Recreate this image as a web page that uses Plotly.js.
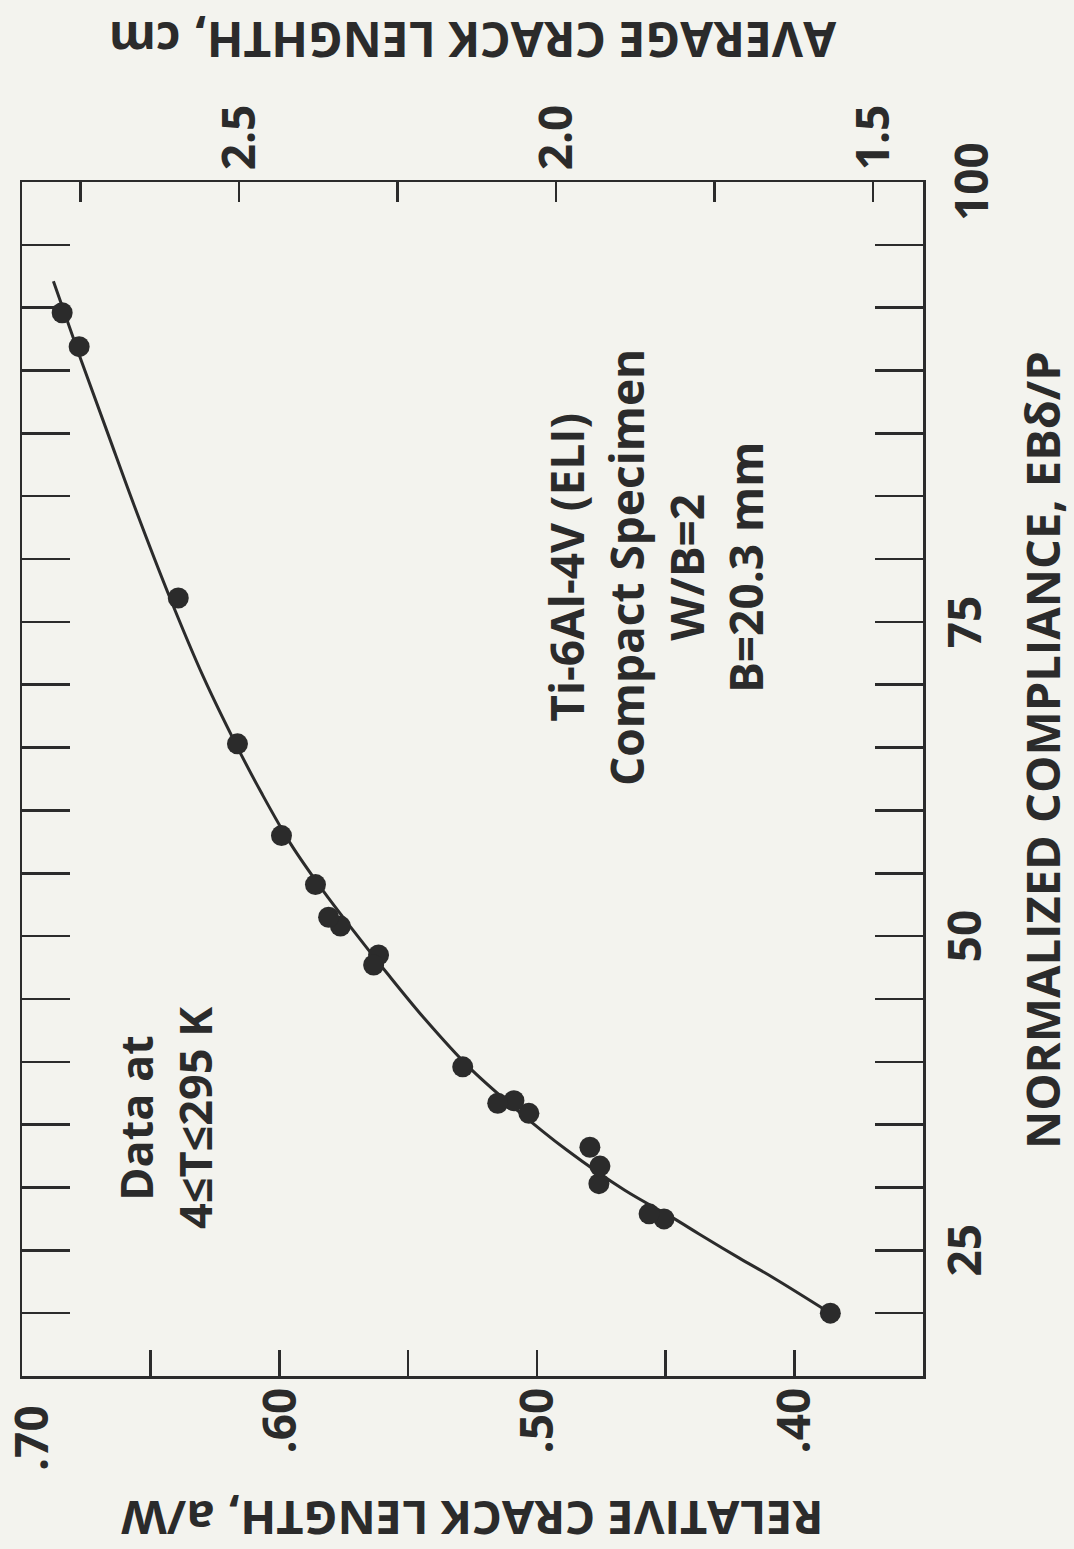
<!DOCTYPE html>
<html>
<head>
<meta charset="utf-8">
<script src="https://cdn.plot.ly/plotly-3.0.1.min.js"></script>
<style>
  html, body { margin: 0; padding: 0; width: 1074px; height: 1549px; overflow: hidden; background: #f3f3ee; }
  #chart { position: absolute; left: 0; top: 0; width: 1549px; height: 1074px;
           transform-origin: 0 0; transform: translateY(1549px) rotate(-90deg); }
</style>
</head>
<body>
<div id="chart"></div>
<script>
// Measured data points: normalized compliance EBδ/P vs relative crack length a/W
const pointCompliance = [20.0, 27.5, 27.9, 30.3, 31.7, 33.2, 35.9, 36.9, 36.7, 39.6,
                         48.5, 47.7, 50.8, 51.5, 54.1, 58.0, 65.3, 76.9, 96.9, 99.6];
const pointRatio      = [0.386, 0.4506, 0.4564, 0.4759, 0.4755, 0.4794, 0.5031, 0.5089, 0.5152, 0.5288,
                         0.5615, 0.5634, 0.5763, 0.5809, 0.5860, 0.5992, 0.6163, 0.6393, 0.6778, 0.6844];

// Fitted calibration curve
const curveCompliance = [20.0, 22.8, 24.4, 26.3, 27.5, 29.8, 33.0, 36.3, 39.6, 43.4, 47.0,
                         50.5, 53.6, 57.3, 61.4, 65.3, 70.6, 76.9, 84.3, 89.9, 95.8, 102.1];
const curveRatio      = [0.386, 0.408, 0.4215, 0.437, 0.4465, 0.466, 0.4885, 0.5085, 0.5265, 0.5435, 0.558,
                         0.5715, 0.583, 0.5955, 0.607, 0.617, 0.6295, 0.6425, 0.6565, 0.6665, 0.677, 0.6878];

// Axis ticks
const complianceMajor = [25, 50, 75, 100];
const complianceMajorText = ['25', '50', '75', ''];
const ratioTicks = [0.35, 0.40, 0.45, 0.50, 0.55, 0.60, 0.65, 0.70];
const ratioTickText = ['', '.40', '', '.50', '', '.60', '', ''];
const lengthTicks = [1.5, 1.75, 2.0, 2.25, 2.5, 2.75];
const lengthTickText = ['1.5', '', '2.0', '', '2.5', ''];

const specimenWidthCm = 4.06;   // W = 2B = 40.6 mm
const ratioRange = [0.35, 0.70];
const complianceRange = [15, 110];

const ink = '#2b2b2b';
const bg = '#f3f3ee';
const fontFamily = 'Open Sans, sans-serif';

const traces = [
  {
    x: curveCompliance, y: curveRatio, type: 'scatter', mode: 'lines',
    line: { color: ink, width: 3, shape: 'spline', smoothing: 1 },
    hoverinfo: 'skip', showlegend: false
  },
  {
    x: pointCompliance, y: pointRatio, type: 'scatter', mode: 'markers',
    marker: { color: ink, size: 21 }, showlegend: false
  },
  {
    // same curve expressed as average crack length (cm) so the right axis is drawn
    x: curveCompliance, y: curveRatio.map(r => r * specimenWidthCm), yaxis: 'y2',
    type: 'scatter', mode: 'lines', line: { width: 0, color: 'rgba(0,0,0,0)' },
    hoverinfo: 'skip', showlegend: false
  }
];

const layout = {
  width: 1549, height: 1074,
  margin: { l: 173, r: 182, t: 22, b: 151 },
  paper_bgcolor: bg, plot_bgcolor: bg,
  font: { family: fontFamily, color: ink, size: 46, weight: 'bold' },
  showlegend: false,
  xaxis: {
    range: complianceRange,
    tickmode: 'array', tickvals: complianceMajor, ticktext: complianceMajorText,
    ticks: 'inside', ticklen: 48, tickwidth: 2.5, tickcolor: ink,
    minor: { dtick: 5, tick0: 0, ticks: 'inside', ticklen: 27, tickwidth: 2.5, tickcolor: ink, showgrid: false },
    showline: true, linewidth: 2.5, linecolor: ink, mirror: 'allticks',
    showgrid: false, zeroline: false,
    tickfont: { size: 46, weight: 'bold' }
  },
  yaxis: {
    range: ratioRange,
    tickmode: 'array', tickvals: ratioTicks, ticktext: ratioTickText,
    ticks: 'inside', ticklen: 26, tickwidth: 2.5, tickcolor: ink,
    showline: true, linewidth: 2.5, linecolor: ink,
    showgrid: false, zeroline: false,
    tickfont: { size: 46, weight: 'bold' }
  },
  yaxis2: {
    overlaying: 'y', side: 'right',
    range: ratioRange.map(v => v * specimenWidthCm),
    tickmode: 'array', tickvals: lengthTicks, ticktext: lengthTickText,
    ticks: 'inside', ticklen: 20, tickwidth: 2.5, tickcolor: ink,
    showline: true, linewidth: 2.5, linecolor: ink,
    showgrid: false, zeroline: false,
    tickfont: { size: 46, weight: 'bold' },
    title: { text: 'AVERAGE CRACK LENGHTH, cm', font: { size: 48, weight: 'bold' }, standoff: 50 }
  },
  annotations: [
    // axis titles
    { xref: 'paper', yref: 'paper', x: 0.524, y: 0, yshift: -119, xanchor: 'center', yanchor: 'middle',
      text: 'NORMALIZED COMPLIANCE, EBδ/P', showarrow: false, font: { size: 47, weight: 'bold' } },
    { xref: 'paper', yref: 'paper', x: 0, y: 0.5, xshift: -143, xanchor: 'center', yanchor: 'middle',
      textangle: -90, text: 'RELATIVE CRACK LENGTH, a/W', showarrow: false, font: { size: 47, weight: 'bold' } },
    // end-of-axis tick labels
    { xref: 'paper', yref: 'paper', x: 1, y: 0, xanchor: 'center', yanchor: 'top', yshift: -14,
      text: '100', showarrow: false, font: { size: 46, weight: 'bold' } },
    { xref: 'paper', yref: 'paper', x: 0, y: 1, xanchor: 'right', yanchor: 'middle', xshift: -27, yshift: -8,
      text: '.70', showarrow: false, font: { size: 46, weight: 'bold' } },
    // in-plot notes
    { xref: 'paper', yref: 'paper', x: 0.677, y: 0.297, xanchor: 'center', yanchor: 'middle',
      text: 'Ti-6Al-4V (ELI)<br>Compact Specimen<br>W/B=2<br>B=20.3 mm', align: 'center',
      showarrow: false, font: { size: 46, weight: 'bold' } },
    { xref: 'paper', yref: 'paper', x: 0.216, y: 0.841, xanchor: 'center', yanchor: 'middle',
      text: 'Data at<br>4≤T≤295 K', align: 'center',
      showarrow: false, font: { size: 45, weight: 'bold' } }
  ]
};

Plotly.newPlot('chart', traces, layout, { displayModeBar: false, staticPlot: true });
</script>
</body>
</html>
